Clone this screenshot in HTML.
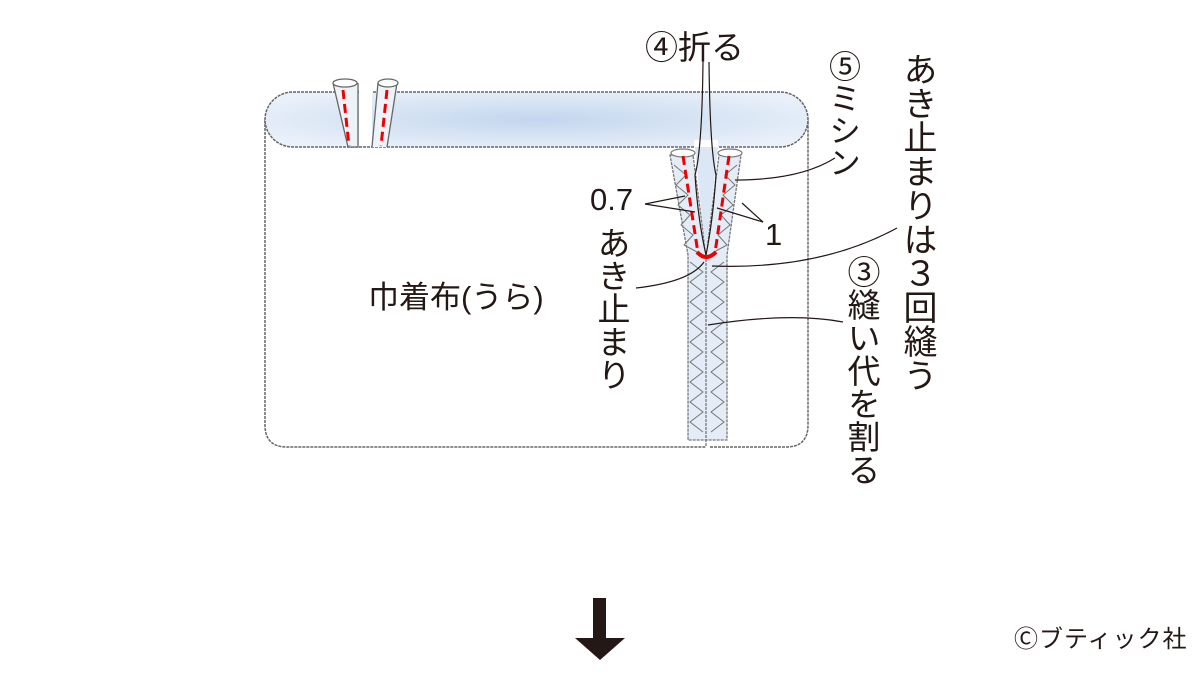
<!DOCTYPE html>
<html><head><meta charset="utf-8"><style>
html,body{margin:0;padding:0;background:#fff;}
#c{position:relative;width:1200px;height:675px;overflow:hidden;font-family:"Liberation Sans","Noto Sans CJK JP",sans-serif;color:#231815;}
.t{position:absolute;white-space:nowrap;line-height:1;}
.v{position:absolute;writing-mode:vertical-rl;white-space:nowrap;line-height:1;}
</style></head><body><div id="c">
<svg width="1200" height="675" style="position:absolute;left:0;top:0">
<defs>
<radialGradient id="g" cx="0.5" cy="0.5" r="0.6">
<stop offset="0" stop-color="#c3d6ee"/><stop offset="1" stop-color="#eaf1fa"/></radialGradient>
</defs>
<path d="M265,120 V425 Q265,447 287,447 H706 M710,447 H786 Q808,447 808,425 V120" fill="none" stroke="#666" stroke-width="1.5" stroke-dasharray="3,1"/>
<path d="M293,92 H780 A28,27.5 0 0 1 780,147 H293 A28,27.5 0 0 1 293,92 Z" fill="url(#g)" stroke="#666" stroke-width="1.5" stroke-dasharray="3,1"/>
<rect x="359" y="90" width="13" height="56" fill="#fff"/>
<g stroke="#666" stroke-width="1.3">
<path d="M333,83 L348,147 H358 L358,83" fill="#eef3fa"/>
<ellipse cx="345" cy="83" rx="12" ry="4" fill="#fff"/>
<path d="M372,147 L378,83 H397 L387,147 Z" fill="#eef3fa" stroke="none"/>
<path d="M372,147 L378,83 M397,83 L387,147" fill="none"/>
<ellipse cx="388" cy="83" rx="10" ry="4" fill="#fff"/>
</g>
<g stroke="#e00" stroke-width="3" stroke-dasharray="9,5">
<line x1="343" y1="90" x2="349" y2="146"/>
<line x1="387" y1="90" x2="381" y2="146"/>
</g>
<rect x="694" y="140" width="24" height="10" fill="#fff"/>
<path d="M670,155 H693 L706,255 L719,155 H741 L727,255 V440 H688 V255 Z" fill="#e3ecf7" stroke="#777" stroke-width="1.3" stroke-dasharray="3,1"/>
<line x1="706" y1="255" x2="706" y2="447" stroke="#777" stroke-width="1.3" stroke-dasharray="3,1"/>
<ellipse cx="683" cy="153" rx="12" ry="4" fill="#fff" stroke="#777" stroke-width="1.2"/>
<ellipse cx="730" cy="153" rx="12" ry="4" fill="#fff" stroke="#777" stroke-width="1.2"/>
<path d="M695,147 Q700,200 706,255 Q712,200 718,147" fill="#dbe7f5" stroke="none"/>
<g fill="none" stroke="#777" stroke-width="1">
<polyline points="674,165 686,175 676,185 688,195 678,205 690,215 681,225 693,235 684,245 697,252"/>
<polyline points="737,165 725,175 735,185 723,195 733,205 721,215 730,225 718,235 727,245 714,252"/>
<polyline points="690,262 703,272 690,282 703,292 690,302 703,312 690,322 703,332 690,342 703,352 690,362 703,372 690,382 703,392 690,402 703,412 690,422 703,432"/>
<polyline points="724,262 711,272 724,282 711,292 724,302 711,312 724,322 711,332 724,342 711,352 724,362 711,372 724,382 711,392 724,402 711,412 724,422 711,432"/>
</g>
<g stroke="#e00" stroke-width="3" stroke-dasharray="9,5" fill="none">
<line x1="683" y1="156" x2="698" y2="253"/>
<line x1="729" y1="156" x2="715" y2="253"/>
</g>
<path d="M697,252 Q706,262 716,252" stroke="#e00" stroke-width="4" fill="none"/>
<g fill="none" stroke="#231815" stroke-width="1.2">
<path d="M703,62 Q702,150 695,175 Q698,220 706,255"/>
<path d="M709,62 Q710,150 716,175 Q713,220 706,255"/>
<path d="M645,204 L685,196"/><path d="M645,204 L695,212"/>
<path d="M763,222 L742,203"/><path d="M763,222 L717,208"/>
<path d="M735,180 Q800,180 835,158"/>
<path d="M636,288 Q690,282 704,262"/>
<path d="M712,266 Q820,270 897,228"/>
<path d="M708,325 Q790,312 843,322"/>
</g>
<path d="M593,598 H606 V638 H625 L600,660 L575,638 H593 Z" fill="#231815"/>
</svg>
<div class="t" style="left:645px;top:31px;font-size:33px;">④折る</div>
<div class="v" style="left:827px;top:50px;font-size:32px;">⑤ミシン</div>
<div class="v" style="left:900px;top:52px;font-size:34px;">あき止まりは３回縫う</div>
<div class="v" style="left:845px;top:255px;font-size:33px;">③縫い代を割る</div>
<div class="t" style="left:590px;top:184px;font-size:31px;">0.7</div>
<div class="t" style="left:765px;top:219px;font-size:31px;">1</div>
<div class="v" style="left:595px;top:226px;font-size:33px;">あき止まり</div>
<div class="t" style="left:368px;top:282px;font-size:31px;">巾着布(うら)</div>
<div class="t" style="left:1014px;top:628px;font-size:24px;letter-spacing:1px;">Ⓒブティック社</div>
</div></body></html>
